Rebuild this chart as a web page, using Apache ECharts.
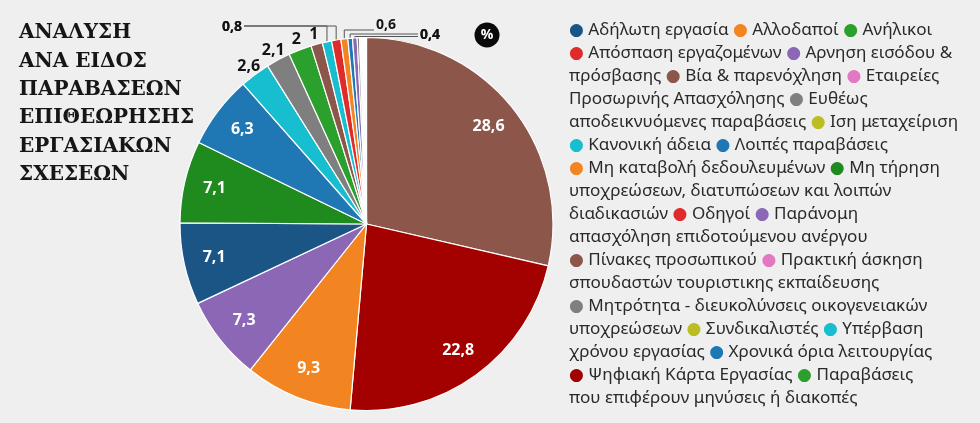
<!DOCTYPE html>
<html>
<head>
<meta charset="utf-8">
<style>
  html, body { margin: 0; padding: 0; background: #efefef; }
  #chart { width: 980px; height: 423px; }
</style>
<script src="https://cdn.jsdelivr.net/npm/echarts@6/dist/echarts.min.js"></script>
</head>
<body>
<div id="chart"></div>
<script>
// title, one entry per printed line
var titleLines = ['ΑΝΑΛΥΣΗ', 'ΑΝΑ ΕΙΔΟΣ', 'ΠΑΡΑΒΑΣΕΩΝ', 'ΕΠΙΘΕΩΡΗΣΗΣ', 'ΕΡΓΑΣΙΑΚΩΝ', 'ΣΧΕΣΕΩΝ']

// legend categories (in legend order) and their colours
var categories = [
  'Αδήλωτη εργασία', 'Αλλοδαποί', 'Ανήλικοι', 'Απόσπαση εργαζομένων',
  'Αρνηση εισόδου & πρόσβασης', 'Βία & παρενόχληση', 'Εταιρείες Προσωρινής Απασχόλησης',
  'Ευθέως αποδεικνυόμενες παραβάσεις', 'Ιση μεταχείριση', 'Κανονική άδεια', 'Λοιπές παραβάσεις',
  'Μη καταβολή δεδουλευμένων', 'Μη τήρηση υποχρεώσεων, διατυπώσεων και λοιπών διαδικασιών',
  'Οδηγοί', 'Παράνομη απασχόληση επιδοτούμενου ανέργου', 'Πίνακες προσωπικού',
  'Πρακτική άσκηση σπουδαστών τουριστικης εκπαίδευσης',
  'Μητρότητα - διευκολύνσεις οικογενειακών υποχρεώσεων', 'Συνδικαλιστές',
  'Υπέρβαση χρόνου εργασίας', 'Χρονικά όρια λειτουργίας', 'Ψηφιακή Κάρτα Εργασίας',
  'Παραβάσεις που επιφέρουν μηνύσεις ή διακοπές'
]
var categoryColors = [
  '#1a5586', '#f28522', '#2ca02c', '#e02b2b',
  '#8c67b5', '#8c564b', '#e377c2',
  '#7f7f7f', '#bcbd22', '#17becf', '#1f77b4',
  '#f28522', '#1f8b1f',
  '#e02b2b', '#8c67b5', '#8c564b',
  '#e377c2',
  '#7f7f7f', '#bcbd22',
  '#17becf', '#1f77b4', '#a30000',
  '#2ca02c'
]

// pie slices, clockwise from 12 o'clock (%)
var sliceNames = [
  'Πίνακες προσωπικού', 'Ψηφιακή Κάρτα Εργασίας', 'Μη καταβολή δεδουλευμένων',
  'Αρνηση εισόδου & πρόσβασης', 'Αδήλωτη εργασία',
  'Μη τήρηση υποχρεώσεων, διατυπώσεων και λοιπών διαδικασιών', 'Λοιπές παραβάσεις',
  'Υπέρβαση χρόνου εργασίας', 'Μητρότητα - διευκολύνσεις οικογενειακών υποχρεώσεων',
  'Παραβάσεις που επιφέρουν μηνύσεις ή διακοπές', 'Βία & παρενόχληση',
  'Κανονική άδεια', 'Οδηγοί', 'Αλλοδαποί', 'Χρονικά όρια λειτουργίας',
  'Παράνομη απασχόληση επιδοτούμενου ανέργου',
  'Ευθέως αποδεικνυόμενες παραβάσεις', 'Ανήλικοι', 'Απόσπαση εργαζομένων',
  'Εταιρείες Προσωρινής Απασχόλησης', 'Ιση μεταχείριση',
  'Πρακτική άσκηση σπουδαστών τουριστικης εκπαίδευσης', 'Συνδικαλιστές'
]
var sliceValues = [
  28.6, 22.8, 9.3,
  7.3, 7.1,
  7.1, 6.3,
  2.6, 2.1,
  2, 1,
  0.8, 0.8, 0.6, 0.4,
  0.4,
  0.2, 0.1, 0.1,
  0.1, 0.1,
  0.1, 0.1
]

// how many legend tokens (dots + words) go on each printed line
var legendLineTokens = [7, 7, 7, 4, 5, 6, 7, 4, 5, 3, 6, 3, 5, 5, 6, 6, 5]

var PIE_CX = 366.5, PIE_CY = 224, PIE_R = 186.5

// leader-line labels for the thin slices at the top
var leaders = {
  '0.8': { x: 242, y: 27, align: 'right', endX: 244, levels: [26, 26] },
  '0.6': { x: 376, y: 25, align: 'left', endX: 374, levels: [30] },
  '0.4': { x: 420, y: 35, align: 'left', endX: 418, levels: [34, 36.5] }
}

function fmt(v) {
  return String(v).replace('.', ',')
}

// legend text built from the categories
function buildLegend() {
  var tokens = []
  categories.forEach(function (name, i) {
    tokens.push('{c' + i + '|●}')
    name.split(' ').forEach(function (w) { tokens.push(w) })
  })
  var lines = []
  var pos = 0
  legendLineTokens.forEach(function (n) {
    lines.push(tokens.slice(pos, pos + n).join(' '))
    pos += n
  })
  return lines.join('\n')
}

var legendRich = {}
categoryColors.forEach(function (c, i) {
  legendRich['c' + i] = { color: c, fontSize: 17, fontFamily: 'DejaVu Sans', lineHeight: 23 }
})

var seenGroup = {}
var pieData = sliceNames.map(function (name, i) {
  var v = sliceValues[i]
  var item = {
    name: name,
    value: v,
    itemStyle: { color: categoryColors[categories.indexOf(name)] }
  }
  if (v >= 5) {
    item.label = { color: '#fff' }
  } else if (v < 0.4) {
    item.label = { show: false }
    item.labelLine = { show: false }
  } else if (v < 1) {
    item.label = { fontSize: 14 }
    item.labelLine = { lineStyle: { color: '#555', width: 1 } }
  }
  return item
})

var chart = echarts.init(document.getElementById('chart'), null, { renderer: 'canvas' })

var option = {
  backgroundColor: '#efefef',
  animation: false,
  title: [
    {
      text: titleLines.join('\n'),
      left: 19,
      top: 19,
      padding: 0,
      textStyle: {
        fontFamily: 'DejaVu Serif',
        fontWeight: 'bold',
        fontSize: 20,
        lineHeight: 28.3,
        color: '#161616'
      }
    },
    {
      text: buildLegend(),
      left: 569,
      top: 19,
      padding: 0,
      textStyle: {
        fontFamily: 'Noto Sans',
        fontWeight: 'normal',
        fontSize: 17.1,
        lineHeight: 23,
        color: '#2a2a2a',
        rich: legendRich
      }
    }
  ],
  graphic: [
    {
      type: 'circle',
      shape: { cx: 487, cy: 35, r: 12.5 },
      style: { fill: '#0a0a0a' }
    },
    {
      type: 'text',
      x: 487,
      y: 35,
      style: {
        text: '%',
        fill: '#fff',
        font: 'bold 14px "Open Sans"',
        textAlign: 'center',
        textVerticalAlign: 'middle'
      }
    }
  ],
  series: [
    {
      type: 'pie',
      center: [PIE_CX, PIE_CY],
      radius: PIE_R,
      startAngle: 90,
      clockwise: true,
      avoidLabelOverlap: false,
      silent: true,
      itemStyle: { borderColor: '#ffffff', borderWidth: 1.2 },
      label: {
        show: true,
        position: 'outside',
        formatter: function (p) { return fmt(p.value) },
        fontFamily: 'Open Sans',
        fontWeight: 'bold',
        fontSize: 16,
        color: '#141414'
      },
      labelLine: {
        show: true,
        length: 10,
        length2: 10,
        lineStyle: { color: 'rgba(0,0,0,0)', width: 1 }
      },
      labelLayout: function (params) {
        var v = sliceValues[params.dataIndex]
        var pts = params.labelLinePoints
        if (!pts) return {}
        var p0 = pts[0]
        var dx = (p0[0] - PIE_CX) / PIE_R
        var dy = (p0[1] - PIE_CY) / PIE_R
        if (v >= 5) {
          return { x: PIE_CX + dx * 156, y: PIE_CY + dy * 156, align: 'center', verticalAlign: 'middle' }
        }
        if (v >= 1) {
          return { x: PIE_CX + dx * 197, y: PIE_CY + dy * 197, align: 'center', verticalAlign: 'middle' }
        }
        var cfg = leaders[String(v)]
        if (!cfg) return {}
        var k = seenGroup[v] || 0
        seenGroup[v] = k + 1
        var lvl = cfg.levels[Math.min(k, cfg.levels.length - 1)]
        return {
          x: cfg.x,
          y: cfg.y,
          align: cfg.align,
          verticalAlign: 'middle',
          labelLinePoints: [[p0[0], p0[1]], [p0[0], lvl], [cfg.endX, lvl]]
        }
      },
      data: pieData
    }
  ]
}

chart.setOption(option)
</script>
</body>
</html>
